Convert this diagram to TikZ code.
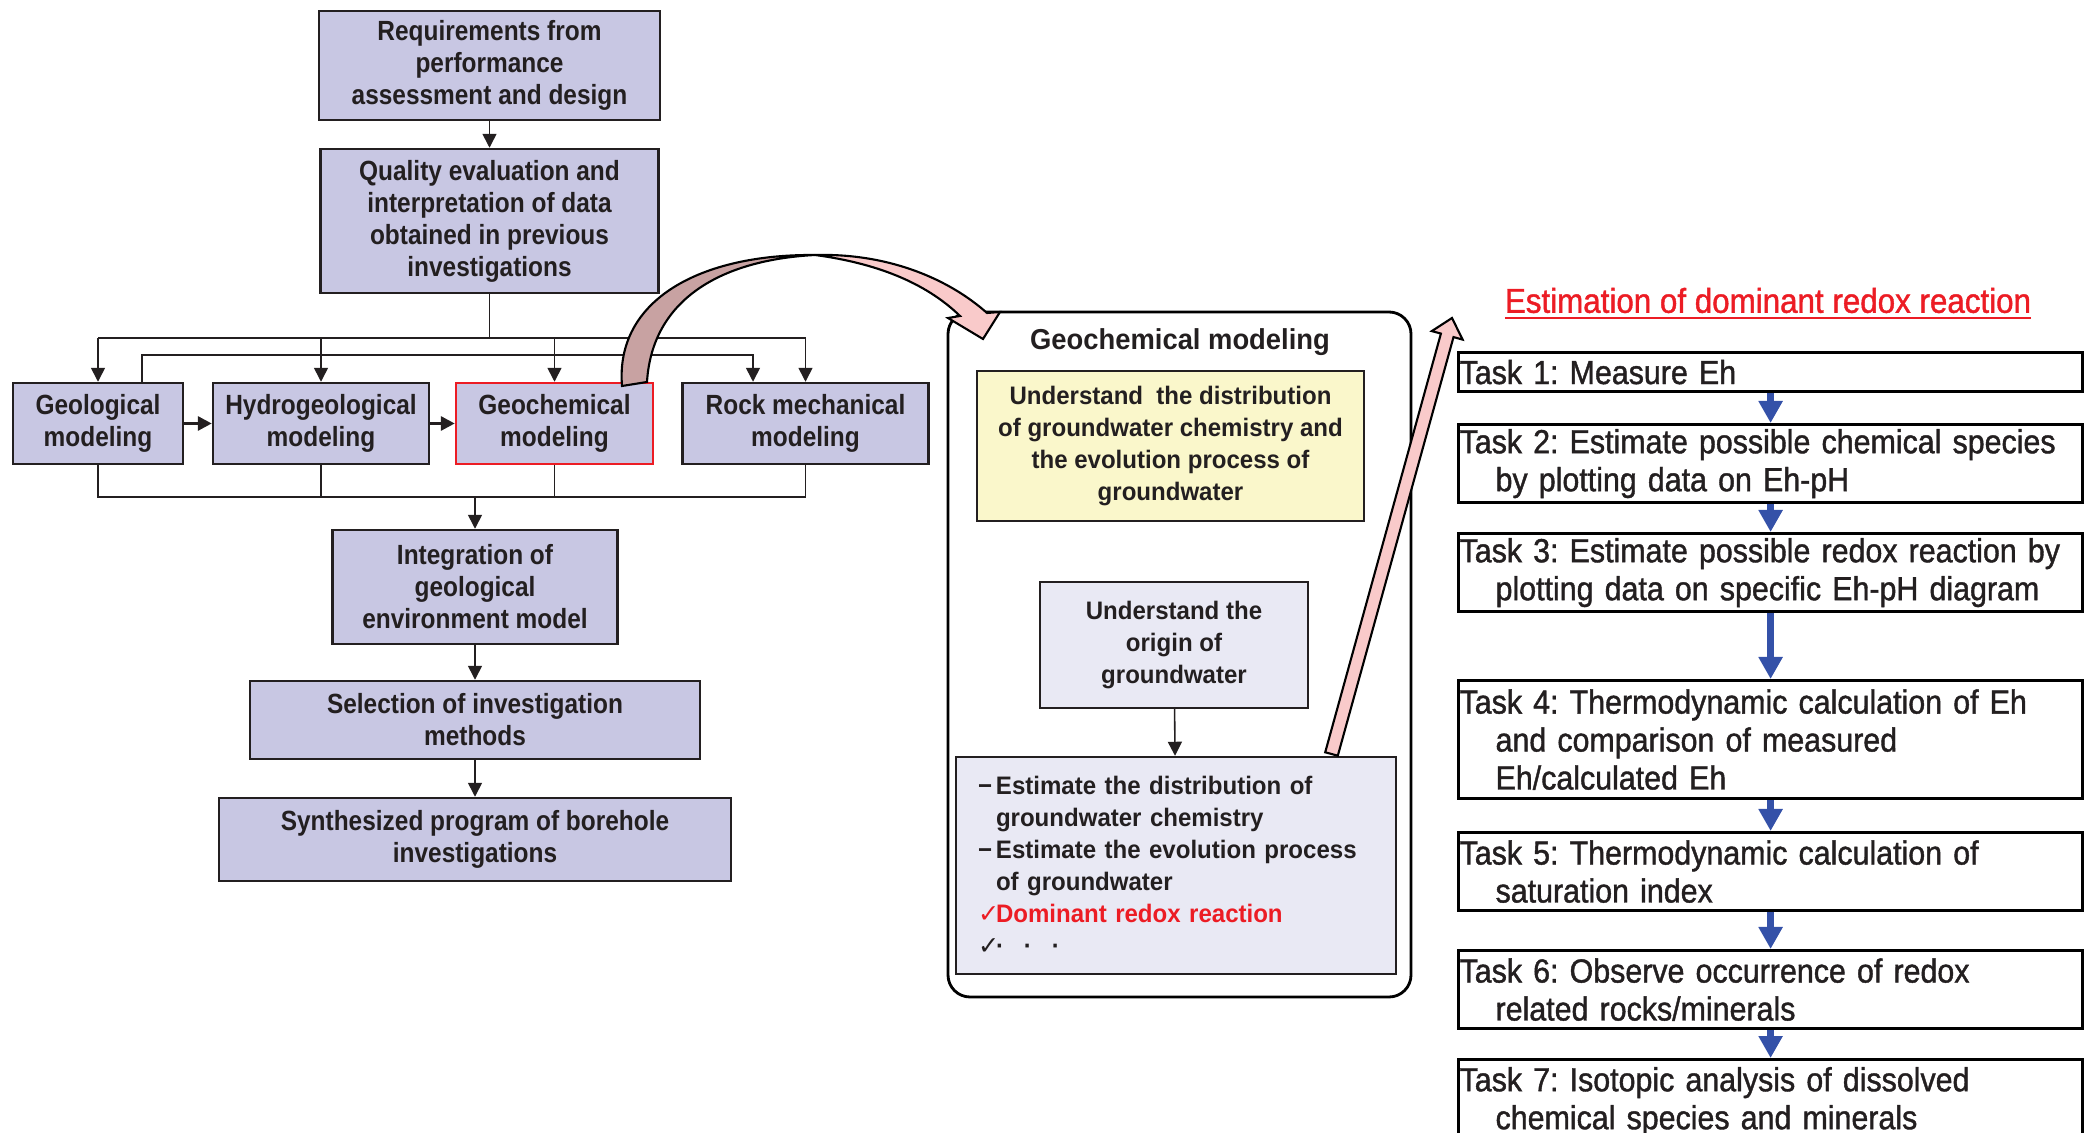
\documentclass[tikz,border=0pt]{standalone}
\usepackage{fontspec}
\setmainfont{Liberation Sans}
\newfontfamily\boxfont{Liberation Sans}[FakeStretch=0.88]
\newfontfamily\midfont{Liberation Sans}[FakeStretch=0.95]
\newfontfamily\taskfont{Liberation Sans}[FakeStretch=0.91,FakeBold=1.2]
\newfontfamily\symfont{DejaVu Sans}
\usepackage{tikz}
\usetikzlibrary{arrows.meta}
\definecolor{boxlav}{HTML}{C8C7E3}
\definecolor{palelav}{HTML}{E9E9F4}
\definecolor{paleyel}{HTML}{FAF7CB}
\definecolor{rosedark}{HTML}{C8A2A2}
\definecolor{roselight}{HTML}{F9CACA}
\definecolor{taskblue}{HTML}{3451A8}
\definecolor{alertred}{HTML}{EC1C24}
\definecolor{inkgray}{HTML}{231F20}
\newcommand{\listdash}{\makebox[1.8mm][l]{−}}
\newcommand{\listcheck}{\makebox[1.8mm][l]{\symfont\mdseries ✓}}
\frenchspacing

\begin{document}
\begin{tikzpicture}[x=1mm,y=-1mm,
  flowbox/.style={draw=inkgray,line width=0.7pt,fill=boxlav,align=center,text=inkgray,inner sep=0pt,
    font=\boxfont\bfseries\fontsize{7.9}{9.1}\selectfont,execute at begin node={\rule{0pt}{3.2mm}}},
  midbox/.style={draw=inkgray,line width=0.7pt,inner sep=0pt,text=inkgray,
    font=\midfont\bfseries\fontsize{7.2}{9.1}\selectfont},
  taskbox/.style={draw=black,line width=0.9pt,anchor=north west,text width=62.2mm,
    inner xsep=0.1mm,inner ysep=0pt,align=left,text=inkgray,font=\taskfont\fontsize{9.5}{10.8}\selectfont},
  link/.style={inkgray,line width=0.45pt},
  linkarr/.style={link,-{Triangle[width=1.4mm,length=1.4mm]}},
  taskarr/.style={taskblue,line width=2pt,-{Triangle[width=2.3mm,length=2.2mm]}}]
  \useasboundingbox (0,0) rectangle (208.5,113.3);

  % left flow
  \node[flowbox,minimum width=34.1mm,minimum height=10.9mm] (req) at (48.95,6.55) {Requirements from\\performance\\assessment and design};
  \node[flowbox,minimum width=33.8mm,minimum height=14.4mm] (qual) at (48.95,22.1) {Quality evaluation and\\interpretation of data\\obtained in previous\\investigations};
  \node[flowbox,minimum width=17.0mm,minimum height=8.1mm] (geol) at (9.8,42.35) {Geological\\modeling};
  \node[flowbox,minimum width=21.6mm,minimum height=8.1mm] (hydro) at (32.1,42.35) {Hydrogeological\\modeling};
  \node[flowbox,draw=alertred,minimum width=19.7mm,minimum height=8.1mm] (geochem) at (55.45,42.35) {Geochemical\\modeling};
  \node[flowbox,minimum width=24.6mm,minimum height=8.1mm] (rock) at (80.55,42.35) {Rock mechanical\\modeling};
  \node[flowbox,minimum width=28.5mm,minimum height=11.4mm] (integ) at (47.5,58.7) {Integration of\\geological\\environment model};
  \node[flowbox,minimum width=45.0mm,minimum height=7.8mm] (sel) at (47.5,72.0) {Selection of investigation\\methods};
  \node[flowbox,minimum width=51.2mm,minimum height=8.3mm] (synth) at (47.5,83.95) {Synthesized program of borehole\\investigations};

  \coordinate (busA) at (48.95,33.8);
  \coordinate (busB) at (14.2,35.5);
  \coordinate (busC) at (75.3,35.5);
  \coordinate (busD) at (47.5,49.7);
  \draw[linkarr] (req) -- (qual);
  \draw[link] (qual) -- (busA);
  \draw[link] (geol.north |- busA) -- (rock.north |- busA);
  \foreach \n in {geol,hydro,geochem,rock}
    \draw[linkarr] (\n.north |- busA) -- (\n.north);
  \draw[linkarr] (geol.north -| busB) -- (busB) -- (busC) -- (rock.north -| busC);
  \draw[linkarr,line width=0.9pt] (geol) -- (hydro);
  \draw[linkarr,line width=0.9pt] (hydro) -- (geochem);
  \draw[link] (geol.south) -- (geol.south |- busD) -- (rock.south |- busD) -- (rock.south);
  \foreach \n in {hydro,geochem}
    \draw[link] (\n.south) -- (\n.south |- busD);
  \draw[linkarr] (busD) -- (integ);
  \draw[linkarr] (integ) -- (sel);
  \draw[linkarr] (sel) -- (synth);

  % geochemical modeling panel
  \node[draw=black,line width=0.8pt,rounded corners=2.2mm,minimum width=46.3mm,minimum height=68.5mm] (gframe) at (117.95,65.45) {};
  \node[text=inkgray,font=\midfont\bfseries\fontsize{8.2}{9.5}\selectfont] (gtitle) at (118.0,34.2) {Geochemical modeling};
  \node[midbox,fill=paleyel,align=center,minimum width=38.7mm,minimum height=15.0mm,execute at begin node={\rule{0pt}{3.0mm}}] (dist) at (117.05,44.6) {Understand\ \ the distribution\\of groundwater chemistry and\\the evolution process of\\groundwater};
  \node[midbox,fill=palelav,align=center,minimum width=26.8mm,minimum height=12.6mm] (origin) at (117.4,64.5) {Understand the\\origin of\\groundwater};
  \node[midbox,fill=palelav,align=left,text width=39.6mm,inner xsep=2.2mm,minimum height=21.7mm] (estim) at (117.6,86.55) {\listdash Estimate the distribution of\\
    \hspace*{1.8mm}groundwater chemistry\\
    \listdash Estimate the evolution process\\
    \hspace*{1.8mm}of groundwater\\
    \textcolor{alertred}{\listcheck Dominant redox reaction}\\
    \listcheck·\hspace{2mm}·\hspace{2mm}·};
  \draw[linkarr] (origin) -- (estim);

  % block arrows
  \draw[line width=0.6pt,fill=roselight] (81.5,25.5) .. controls (89.0,25.3) and (95.0,28.0) .. (98.7,31.3)
    -- (100.0,31.2) -- (98.3,33.9) -- (94.8,31.8) -- (96.0,31.6) .. controls (92.5,28.2) and (87.5,26.3) .. (81.5,25.5) -- cycle;
  \draw[line width=0.6pt,fill=rosedark] (62.2,38.6) .. controls (61.5,30.0) and (70.0,25.4) .. (81.5,25.5)
    .. controls (72.0,26.0) and (65.2,30.0) .. (64.7,38.2) -- cycle;
  \draw[line width=0.6pt,fill=roselight] (132.52,75.23) -- (144.09,33.36) -- (143.18,33.11) -- (145.2,31.8)
    -- (146.26,33.96) -- (145.35,33.71) -- (133.78,75.57) -- cycle;

  % redox tasks
  \node[text=alertred,font=\taskfont\fontsize{9.8}{11}\selectfont] (redtitle) at (176.8,30.4) {\underline{Estimation of dominant redox reaction}};
  \node[taskbox,minimum height=3.9mm] (t1) at (145.7,35.1) {Task 1: Measure Eh};
  \node[taskbox,minimum height=7.8mm] (t2) at (145.7,42.3) {\mbox{Task 2: Estimate possible chemical species}\\\hspace*{3.6mm}by plotting data on Eh-pH};
  \node[taskbox,minimum height=7.8mm] (t3) at (145.7,53.2) {\mbox{Task 3: Estimate possible redox reaction by}\\\hspace*{3.6mm}plotting data on specific Eh-pH diagram};
  \node[taskbox,minimum height=11.8mm] (t4) at (145.7,67.9) {\mbox{Task 4: Thermodynamic calculation of Eh}\\\hspace*{3.6mm}and comparison of measured\\\hspace*{3.6mm}Eh/calculated Eh};
  \node[taskbox,minimum height=7.8mm] (t5) at (145.7,83.1) {Task 5: Thermodynamic calculation of\\\hspace*{3.6mm}saturation index};
  \node[taskbox,minimum height=7.8mm] (t6) at (145.7,94.9) {Task 6: Observe occurrence of redox\\\hspace*{3.6mm}related rocks/minerals};
  \node[taskbox,minimum height=8.4mm] (t7) at (145.7,105.8) {Task 7: Isotopic analysis of dissolved\\\hspace*{3.6mm}chemical species and minerals};
  \foreach \a/\b in {t1/t2,t2/t3,t3/t4,t4/t5,t5/t6,t6/t7}
    \draw[taskarr] (\a) -- (\b);
\end{tikzpicture}
\end{document}
